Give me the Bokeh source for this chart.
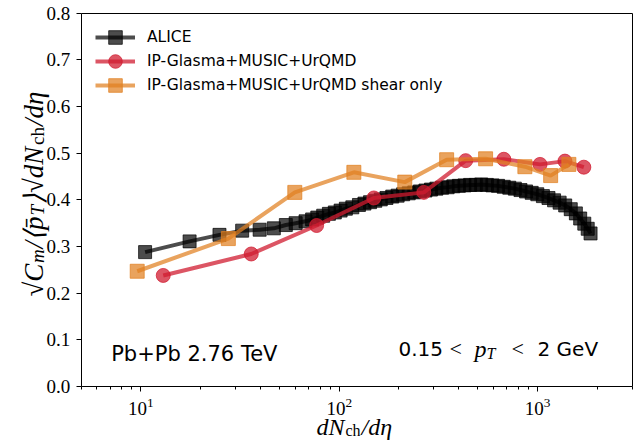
import math

from bokeh.embed import file_html
from bokeh.models import FixedTicker, Label, Legend, LegendItem, LinearAxis, Range1d
from bokeh.plotting import figure
from bokeh.resources import INLINE

# ALICE Pb+Pb 2.76 TeV, sqrt(C_m)/<pT> * sqrt(dNch/deta) vs dNch/deta
alice_dndeta = [10.5, 17.6, 24.9, 32.4, 39.7, 46.8, 53.8, 60.3, 67.6, 73.0,
                77.5, 83.0, 88.7, 95.0, 101.6, 108.0, 116.4, 125.7, 134.0, 143.0,
                152.0, 162.0, 173.0, 185.0, 197.0, 210.0, 224.0, 239.0, 255.0, 272.0,
                290.0, 309.0, 330.0, 352.0, 376.0, 401.0, 428.0, 457.0, 488.0, 520.0,
                555.0, 592.0, 632.0, 675.0, 720.0, 768.0, 820.0, 875.0, 934.0, 997.0,
                1064.0, 1135.0, 1211.0, 1292.0, 1378.0, 1470.0, 1560.0, 1640.0, 1720.0, 1790.0,
                1850.0]
alice_cm = [0.288, 0.311, 0.325, 0.334, 0.336, 0.339, 0.346, 0.350, 0.354, 0.358,
            0.362, 0.366, 0.370, 0.373, 0.377, 0.381, 0.384, 0.389, 0.392, 0.395,
            0.398, 0.401, 0.404, 0.407, 0.409, 0.412, 0.414, 0.416, 0.418, 0.420,
            0.422, 0.424, 0.426, 0.427, 0.429, 0.430, 0.431, 0.432, 0.432, 0.433,
            0.432, 0.431, 0.430, 0.428, 0.426, 0.424, 0.421, 0.418, 0.415, 0.412,
            0.408, 0.404, 0.399, 0.394, 0.388, 0.380, 0.371, 0.360, 0.349, 0.338,
            0.328]

# IP-Glasma+MUSIC+UrQMD
ipg_dndeta = [12.96, 36.0, 76.9, 149.5, 267.0, 434.0, 676.0, 1029.0, 1374.0, 1711.0]
ipg_cm = [0.238, 0.284, 0.345, 0.404, 0.416, 0.484, 0.487, 0.476, 0.483, 0.470]

# IP-Glasma+MUSIC+UrQMD, shear viscosity only
shear_dndeta = [9.58, 27.6, 59.7, 118.5, 214.0, 348.0, 547.0, 863.0, 1164.0, 1438.0]
shear_cm = [0.247, 0.317, 0.416, 0.459, 0.438, 0.486, 0.488, 0.471, 0.452, 0.476]

series_labels = ["ALICE", "IP-Glasma+MUSIC+UrQMD", "IP-Glasma+MUSIC+UrQMD shear only"]

y_ticks = [0.0, 0.1, 0.2, 0.3, 0.4, 0.5, 0.6, 0.7, 0.8]
y_tick_labels = ["0.0", "0.1", "0.2", "0.3", "0.4", "0.5", "0.6", "0.7", "0.8"]

# axes box limits (data units)
X_LO, X_HI = 5.0, 3000.0
Y_LO, Y_HI = 0.0, 0.8

W, H = 634, 440
# pixel placement of the axes box inside the canvas
BOX_L, BOX_R, BOX_T, BOX_B = 80.7, 631.7, 12.7, 386.0

SERIF = "Liberation Serif"
SANS = "DejaVu Sans"

# the plotting frame spans the whole canvas; the axes box is drawn with
# fixed-location axes so that the axis titles can live inside the frame
dec_px = (BOX_R - BOX_L) / (math.log10(X_HI) - math.log10(X_LO))
x_start = 10 ** (math.log10(X_LO) - BOX_L / dec_px)
x_end = 10 ** (math.log10(X_HI) + (W - BOX_R) / dec_px)
unit_px = (BOX_B - BOX_T) / (Y_HI - Y_LO)
y_end = Y_HI + BOX_T / unit_px
y_start = Y_LO - (H - BOX_B) / unit_px

p = figure(width=W, height=H, x_axis_type="log", title=None,
           x_range=Range1d(x_start, x_end), y_range=Range1d(y_start, y_end),
           output_backend="svg", toolbar_location=None,
           min_border=0, min_border_left=0, min_border_right=0,
           min_border_top=0, min_border_bottom=0)

p.background_fill_color = "white"
p.border_fill_color = "white"
p.grid.visible = False
p.outline_line_color = None

p.xaxis.fixed_location = Y_LO
p.xaxis.bounds = (X_LO, X_HI)
p.yaxis.fixed_location = X_LO
p.yaxis.bounds = (Y_LO, Y_HI)

for ax in (p.xaxis[0], p.yaxis[0]):
    ax.axis_line_color = "black"
    ax.major_tick_line_color = "black"
    ax.minor_tick_line_color = "black"
    ax.major_tick_out = 5
    ax.major_tick_in = 0
    ax.minor_tick_out = 3
    ax.minor_tick_in = 0
    ax.major_label_text_font = SERIF
    ax.major_label_text_font_size = "19px"
    ax.major_label_text_color = "black"
    ax.major_label_standoff = 6
    ax.axis_label = None

p.yaxis.ticker = FixedTicker(ticks=y_ticks, minor_ticks=[])
p.yaxis.major_label_overrides = {t: s for t, s in zip(y_ticks, y_tick_labels)}
p.yaxis.minor_tick_line_color = None

# top and right edges of the box
top_edge = LinearAxis(fixed_location=Y_HI, bounds=(X_LO, X_HI),
                      ticker=FixedTicker(ticks=[]), axis_line_color="black")
right_edge = LinearAxis(fixed_location=X_HI, bounds=(Y_LO, Y_HI),
                        ticker=FixedTicker(ticks=[]), axis_line_color="black")
p.add_layout(top_edge, "above")
p.add_layout(right_edge, "right")

BLACK = "#000000"
RED = "#d01c30"
ORANGE = "#e08020"
LW = 4

styles = [
    # (x, y, colour, alpha, marker, size)
    (alice_dndeta, alice_cm, BLACK, 0.70, "square", 13),
    (ipg_dndeta, ipg_cm, RED, 0.75, "circle", 14),
    (shear_dndeta, shear_cm, ORANGE, 0.72, "square", 14),
]

series_renderers = []
for xs, ys, col, alpha, marker, size in styles:
    ln = p.line(xs, ys, line_color=col, line_alpha=alpha, line_width=LW)
    sc = p.scatter(xs, ys, marker=marker, size=size,
                   fill_color=col, fill_alpha=alpha, line_color=col, line_alpha=alpha)
    series_renderers.append([ln, sc])

# one single-row legend per series, stacked 24 px apart
ROW_H = 34
row_centers = [36.7, 60.7, 84.7]
for label, rends, cy in zip(series_labels, series_renderers, row_centers):
    lg = Legend(items=[LegendItem(label=label, renderers=rends)],
                location=(95, H - (cy + ROW_H / 2)),
                margin=0, padding=0, border_line_color=None,
                background_fill_alpha=0, glyph_width=40, glyph_height=ROW_H,
                label_height=ROW_H, spacing=0, label_standoff=12,
                label_text_font=SANS, label_text_font_size="15.5px",
                label_text_color="black")
    p.add_layout(lg)


def add_text(x, y, text, size, font=SANS, style="normal", angle=0.0):
    """Place text at canvas pixel x, baseline y measured from the top."""
    p.add_layout(Label(x=x, y=H - y, x_units="screen", y_units="screen", text=text,
                       text_font=font, text_font_size=f"{size}px",
                       text_font_style=style, text_color="black",
                       text_baseline="alphabetic", text_align="left",
                       angle=angle, angle_units="rad"))


# x axis title: dN_ch / d eta
add_text(316, 426, "dN", 24, SERIF, "italic")
add_text(345, 430, "ch", 16, SERIF, "normal")
add_text(361, 426, "/d\u03b7", 24, SERIF, "italic")

# y axis title: sqrt(C_m)/<pT-bar> sqrt(dN_ch/d eta), written bottom to top
up = math.pi / 2
y_pieces = [
    ("\u221aC", 27, "italic", 33, 33.5),
    ("m", 19, "italic", 37, 14.5),
    ("/\u27e8p\u0304", 27, "italic", 33, 33.0),
    ("T", 19, "italic", 37, 11.5),
    ("\u27e9\u221adN", 27, "italic", 33, 59.0),
    ("ch", 19, "normal", 37, 19.0),
    ("/d\u03b7", 27, "italic", 33, 35.0),
]
pos = 296.0
for txt, size, style, bx, adv in y_pieces:
    add_text(bx, pos, txt, size, SERIF, style, angle=up)
    pos -= adv

# annotations inside the box
add_text(110.7, 353.3, "Pb+Pb 2.76 TeV", 21)
add_text(398, 348.3, "0.15", 20)
add_text(449, 348.3, "<", 22, SERIF)
add_text(474, 348.3, "p", 24, SERIF, "italic")
add_text(486, 352.5, "T", 16, SERIF, "italic")
add_text(511, 348.3, "<", 22, SERIF)
add_text(537, 348.3, "2 GeV", 20)

open("out.html", "w").write(file_html(p, INLINE))
